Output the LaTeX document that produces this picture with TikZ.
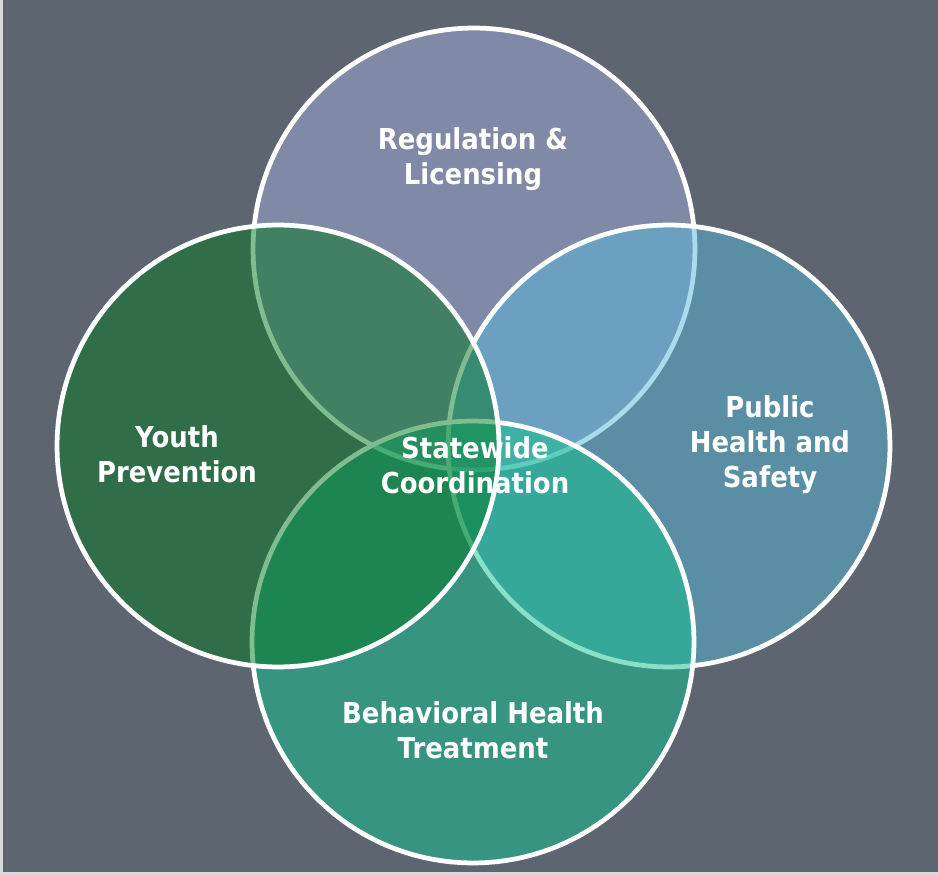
\documentclass[tikz,border=0pt]{standalone}
\usepackage{fontspec}
\setmainfont{DejaVu Sans}[FakeStretch=0.9]
\usetikzlibrary{positioning}

\definecolor{slatebg}{HTML}{5C6570}
\definecolor{edgegray}{HTML}{D8DBDE}
\definecolor{regfill}{RGB}{164,173,220}
\definecolor{pubfill}{RGB}{87,184,218}
\definecolor{behfill}{RGB}{18,195,144}
\definecolor{youfill}{RGB}{5,120,35}

\begin{document}
\begin{tikzpicture}[x=0.02cm, y=-0.02cm,
    venn/.style={circle, draw=white, line width=2.7pt, fill opacity=0.5,
        minimum size=8.84cm, inner sep=0pt},
    areatext/.style={text=white, align=center,
        font=\bfseries\fontsize{16.4}{20}\selectfont}]
        % Background
        \fill[edgegray] (0,0) rectangle (938,875);
        \fill[slatebg] (3,0) rectangle (938,872);
        \useasboundingbox (0,0) rectangle (938,875);

        % Circles
        \node[venn, fill=regfill] (reg) at (474,249) {};
        \node[venn, fill=pubfill] (pub) at (669,446) {};
        \node[venn, fill=behfill] (beh) at (473,642) {};
        \node[venn, fill=youfill] (you) at (278,446) {};

        % Labels
        \node[areatext] (regtext) at (473,159) {Regulation \&\\Licensing};
        \node[areatext] (youtext) at (177,454) {Youth\\Prevention};
        \node[areatext] (pubtext) at (770,445) {Public\\Health and\\Safety};
        \node[areatext] (behtext) at (473,730) {Behavioral Health\\Treatment};
        \node[areatext] (midtext) at (475,465) {Statewide\\Coordination};
    \end{tikzpicture}
\end{document}
